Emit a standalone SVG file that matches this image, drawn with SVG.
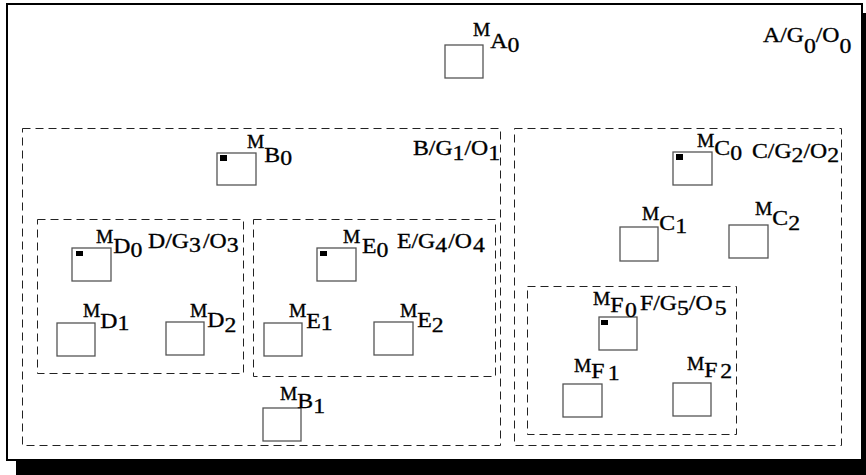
<svg xmlns="http://www.w3.org/2000/svg" width="866" height="475" viewBox="0 0 866 475">
<style>
  text { font-family: "Liberation Serif", "Times New Roman", serif; fill: #000; stroke: #000; stroke-width: 0.35; font-size: 22px; }
  .m { font-size: 18px; }
  .box { fill: #fff; stroke: #555; stroke-width: 1.3; }
  .mark { fill: #000; }
  .grp { fill: none; stroke: #222; stroke-width: 1; stroke-dasharray: 8 5; }
</style>
<rect x="16" y="13" width="860" height="470" fill="#000"/>
<rect x="7" y="4" width="855" height="456" fill="#fff" stroke="#000" stroke-width="2"/>

<g id="region-A">
  <text transform="translate(763 42) scale(1.08 1)">A/G<tspan dy="11">0</tspan><tspan dy="-11">/O</tspan><tspan dy="11">0</tspan></text>
</g>
<g id="region-B">
  <rect class="grp" x="22.5" y="128.5" width="478" height="317"/>
  <text transform="translate(413 155) scale(1.08 1)">B/G<tspan dy="5">1</tspan><tspan dy="-5">/O</tspan><tspan dy="5">1</tspan></text>
</g>
<g id="region-C">
  <rect class="grp" x="514.5" y="128.5" width="327" height="317"/>
  <text transform="translate(752 158) scale(1.08 1)">C/G<tspan dy="4">2</tspan><tspan dy="-4">/O</tspan><tspan dy="4">2</tspan></text>
</g>
<g id="region-D">
  <rect class="grp" x="37.5" y="219.5" width="206" height="154"/>
  <text transform="translate(148 248) scale(1.08 1)">D/G<tspan dy="4">3</tspan><tspan dx="2" dy="-4">/O</tspan><tspan dy="4">3</tspan></text>
</g>
<g id="region-E">
  <rect class="grp" x="253.5" y="219.5" width="242" height="157"/>
  <text transform="translate(397 248) scale(1.08 1)">E/G<tspan dy="4">4</tspan><tspan dx="1" dy="-4">/O</tspan><tspan dx="1" dy="4">4</tspan></text>
</g>
<g id="region-F">
  <rect class="grp" x="527.5" y="286.5" width="209" height="148"/>
  <text transform="translate(640 310) scale(1.08 1)">F/G<tspan dy="5">5</tspan><tspan dy="-5">/O</tspan><tspan dx="2" dy="5">5</tspan></text>
</g>

<g id="MA0">
  <rect class="box" x="445" y="45" width="38" height="33"/>
  <text transform="translate(473 36) scale(1.08 1)"><tspan class="m">M</tspan><tspan dy="12">A</tspan><tspan dy="4">0</tspan></text>
</g>
<g id="MB0">
  <rect class="box" x="217" y="153" width="39" height="32"/>
  <rect class="mark" x="220" y="155" width="7" height="6"/>
  <text transform="translate(247 148) scale(1.08 1)"><tspan class="m">M</tspan><tspan dy="14">B</tspan><tspan dy="3">0</tspan></text>
</g>
<g id="MB1">
  <rect class="box" x="263" y="408" width="38" height="33"/>
  <text transform="translate(280 400) scale(1.08 1)"><tspan class="m">M</tspan><tspan dy="8">B</tspan><tspan dy="5">1</tspan></text>
</g>
<g id="MD0">
  <rect class="box" x="72" y="248" width="39" height="33"/>
  <rect class="mark" x="76" y="251" width="7" height="5"/>
  <text transform="translate(96 243) scale(1.08 1)"><tspan class="m">M</tspan><tspan dy="10">D</tspan><tspan dy="4">0</tspan></text>
</g>
<g id="MD1">
  <rect class="box" x="57" y="323" width="38" height="33"/>
  <text transform="translate(83 317) scale(1.08 1)"><tspan class="m">M</tspan><tspan dy="11">D</tspan><tspan dy="2">1</tspan></text>
</g>
<g id="MD2">
  <rect class="box" x="166" y="322" width="38" height="33"/>
  <text transform="translate(190 317) scale(1.08 1)"><tspan class="m">M</tspan><tspan dy="10">D</tspan><tspan dy="5">2</tspan></text>
</g>
<g id="ME0">
  <rect class="box" x="317" y="248" width="39" height="33"/>
  <rect class="mark" x="320" y="251" width="7" height="5"/>
  <text transform="translate(343 243) scale(1.08 1)"><tspan class="m">M</tspan><tspan dx="1.5" dy="10">E</tspan><tspan dy="4">0</tspan></text>
</g>
<g id="ME1">
  <rect class="box" x="264" y="323" width="38" height="33"/>
  <text transform="translate(289 317) scale(1.08 1)"><tspan class="m">M</tspan><tspan dy="11">E</tspan><tspan dy="2">1</tspan></text>
</g>
<g id="ME2">
  <rect class="box" x="374" y="322" width="39" height="33"/>
  <text transform="translate(400 317) scale(1.08 1)"><tspan class="m">M</tspan><tspan dy="10">E</tspan><tspan dy="5">2</tspan></text>
</g>
<g id="MC0">
  <rect class="box" x="673" y="152" width="39" height="33"/>
  <rect class="mark" x="676" y="154" width="7" height="6"/>
  <text transform="translate(697 147) scale(1.08 1)"><tspan class="m">M</tspan><tspan dy="8">C</tspan><tspan dy="5">0</tspan></text>
</g>
<g id="MC1">
  <rect class="box" x="620" y="227" width="38" height="34"/>
  <text transform="translate(642 220) scale(1.08 1)"><tspan class="m">M</tspan><tspan dy="10">C</tspan><tspan dy="3">1</tspan></text>
</g>
<g id="MC2">
  <rect class="box" x="729" y="225" width="39" height="33"/>
  <text transform="translate(755 215) scale(1.08 1)"><tspan class="m">M</tspan><tspan dy="10">C</tspan><tspan dy="5">2</tspan></text>
</g>
<g id="MF0">
  <rect class="box" x="599" y="317" width="38" height="33"/>
  <rect class="mark" x="601" y="320" width="7" height="5"/>
  <text transform="translate(593 305) scale(1.08 1)"><tspan class="m">M</tspan><tspan dy="7">F</tspan><tspan dx="1.5" dy="5">0</tspan></text>
</g>
<g id="MF1">
  <rect class="box" x="563" y="384" width="39" height="33"/>
  <text transform="translate(574 372) scale(1.08 1)"><tspan class="m">M</tspan><tspan dy="6">F</tspan><tspan dx="3" dy="2">1</tspan></text>
</g>
<g id="MF2">
  <rect class="box" x="673" y="383" width="38" height="33"/>
  <text transform="translate(687 370) scale(1.08 1)"><tspan class="m">M</tspan><tspan dy="7">F</tspan><tspan dx="2.5" dy="1">2</tspan></text>
</g>
<g id="connectors"></g>
</svg>
